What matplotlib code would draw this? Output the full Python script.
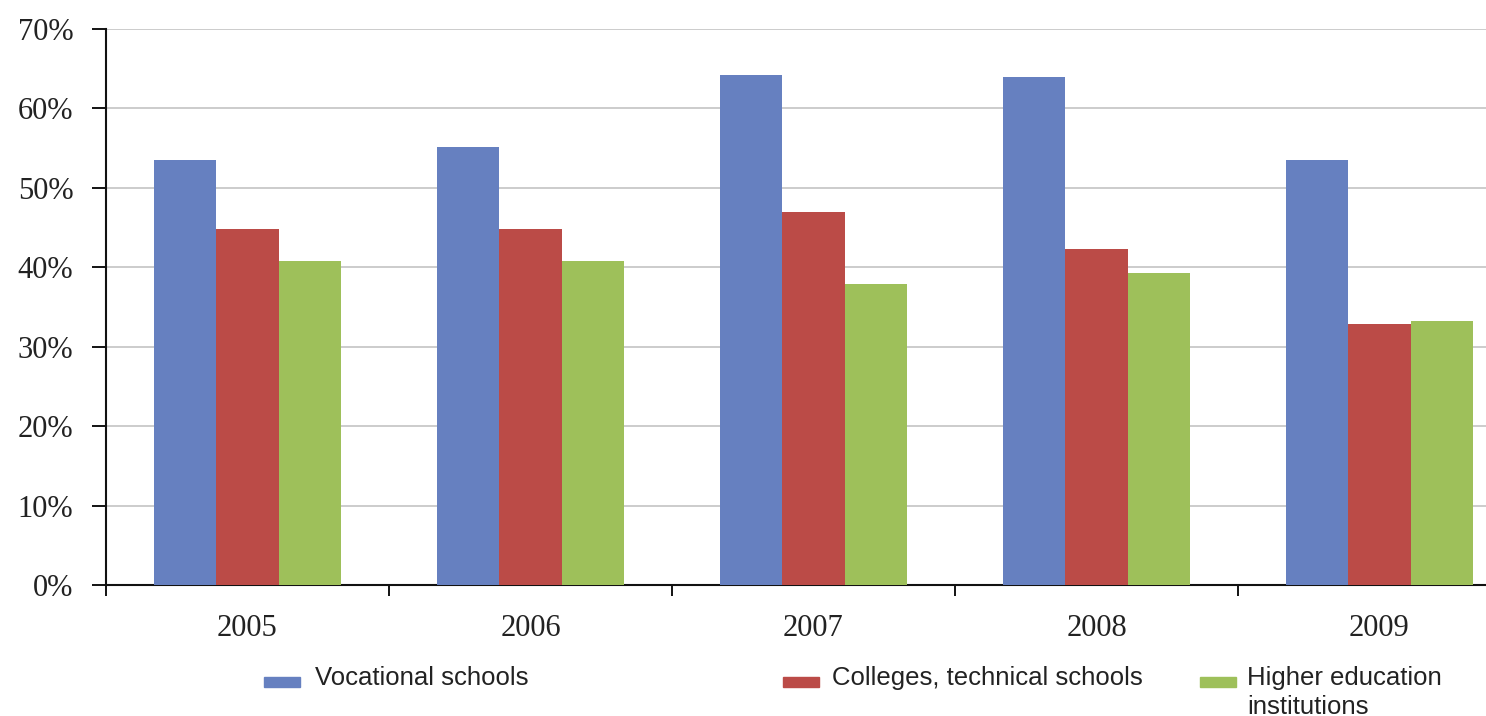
import numpy as np
import matplotlib.pyplot as plt
from matplotlib.patches import Rectangle
from matplotlib.ticker import FixedLocator, FuncFormatter

years = ['2005', '2006', '2007', '2008', '2009']
vocational = [53.5, 55.2, 64.2, 63.9, 53.5]
colleges = [44.8, 44.8, 47.0, 42.3, 32.9]
higher_ed = [40.8, 40.8, 37.9, 39.3, 33.2]

series_names = ['Vocational schools', 'Colleges, technical schools',
                'Higher education\ninstitutions']
colors = ['#6680C0', '#BB4B47', '#9EC05A']

W, H = 1486, 716
fig = plt.figure(figsize=(W / 100, H / 100), dpi=100)
fig.patch.set_facecolor('white')

# axes spans a bit past the right edge of the figure
ax = fig.add_axes([106 / W, (H - 585) / H, 1415 / W, 556 / H])

x = np.arange(len(years))
bw = 0.221
for k, (vals, c) in enumerate(zip([vocational, colleges, higher_ed], colors)):
    ax.bar(x + (k - 1) * bw, vals, width=bw, color=c, zorder=3)

ax.set_xlim(-0.5, len(years) - 0.5)
ax.set_ylim(0, 70)

ax.set_yticks(np.arange(0, 71, 10))
ax.yaxis.set_major_formatter(FuncFormatter(lambda v, p: f'{int(v)}%'))
ax.yaxis.grid(True, color='#c8c8c8', linewidth=1.3, zorder=0)

ax.xaxis.set_major_locator(FixedLocator(np.arange(-0.5, len(years), 1.0)))
ax.xaxis.set_minor_locator(FixedLocator(x))
ax.set_xticklabels([])
ax.set_xticklabels(years, minor=True)
ax.tick_params(axis='x', which='minor', length=0, pad=21)
ax.tick_params(axis='x', which='major', length=8, width=1.3, direction='out')
ax.tick_params(axis='y', length=10, width=1.3, pad=13.5)

for lab in ax.get_yticklabels() + ax.get_xticklabels(minor=True):
    lab.set_fontfamily('Liberation Serif')
    lab.set_fontsize(22)
    lab.set_color('#222222')

for s in ['top', 'right']:
    ax.spines[s].set_visible(False)
for s in ['left', 'bottom']:
    ax.spines[s].set_linewidth(1.5)
    ax.spines[s].set_color('#111111')

# legend row below the axes
legend_pos = [(264, 315), (783, 832), (1200, 1247)]
for (mx, tx), name, c in zip(legend_pos, series_names, colors):
    fig.add_artist(Rectangle((mx / W, 1 - 687 / H), 36 / W, 10 / H,
                             transform=fig.transFigure, color=c))
    fig.text(tx / W, 1 - 666 / H, name, ha='left', va='top',
             fontsize=18.5, family='Liberation Sans', color='#222222',
             linespacing=1.25)

fig.savefig('out.png', dpi=100)
